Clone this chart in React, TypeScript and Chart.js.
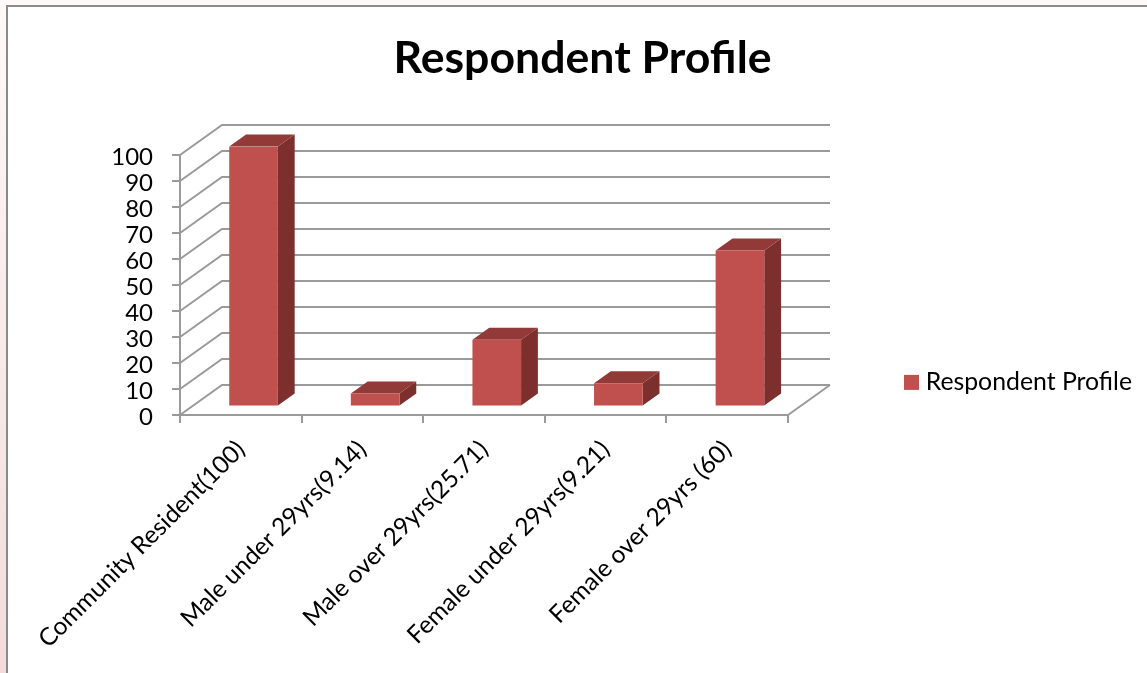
import React, { useEffect, useRef } from "react";
import { Chart, registerables } from "chart.js";

Chart.register(...registerables);

const categories = [
  "Community Resident(100)",
  "Male under 29yrs(9.14)",
  "Male over 29yrs(25.71)",
  "Female under 29yrs(9.21)",
  "Female over 29yrs (60)",
];
const seriesName = "Respondent Profile";
const seriesValues = [100, 5, 25.7, 9, 60];
const titleText = "Respondent Profile";

const FONT = "Lato, 'Open Sans', sans-serif";
const GRID = "#9a9a9a";
const FRONT = "#C0504D";
const SIDE = "#7C2F2D";
const TOP = "#923A38";
const DEPTH_X = 42;
const DEPTH_Y = -30;
const BAR_NEAR = 0.28;
const BAR_DEPTH = 0.4;

const wall3d = {
  id: "wall3d",
  afterLayout(chart: any) {
    const leg = chart.legend;
    if (leg) {
      leg.left = 894;
      leg.right = 1132;
      leg.top = 360;
      leg.bottom = 400;
    }
    const t = chart.titleBlock;
    if (t) {
      t.left = 18;
      t.right = 1147;
    }
  },
  beforeDatasetsDraw(chart: any) {
    const { ctx, chartArea: a, scales } = chart;
    const y = scales.y;
    ctx.save();
    ctx.strokeStyle = GRID;
    ctx.lineWidth = 2;
    y.ticks.forEach((tick: any) => {
      const py = y.getPixelForValue(tick.value);
      ctx.beginPath();
      ctx.moveTo(a.left, py);
      ctx.lineTo(a.left + DEPTH_X, py + DEPTH_Y);
      ctx.lineTo(a.right + DEPTH_X, py + DEPTH_Y);
      ctx.stroke();
    });
    const y0 = y.getPixelForValue(0);
    ctx.beginPath();
    ctx.moveTo(a.right, y0);
    ctx.lineTo(a.right + DEPTH_X, y0 + DEPTH_Y);
    ctx.stroke();
    ctx.restore();

    const meta = chart.getDatasetMeta(0);
    const dx = DEPTH_X * BAR_DEPTH;
    const dy = DEPTH_Y * BAR_DEPTH;
    const ox = DEPTH_X * BAR_NEAR + 1;
    const oy = DEPTH_Y * BAR_NEAR;
    ctx.save();
    ctx.translate(ox, oy);
    meta.data.forEach((bar: any) => {
      const l = bar.x - bar.width / 2;
      const r = bar.x + bar.width / 2;
      ctx.fillStyle = SIDE;
      ctx.beginPath();
      ctx.moveTo(r, bar.y);
      ctx.lineTo(r + dx, bar.y + dy);
      ctx.lineTo(r + dx, bar.base + dy);
      ctx.lineTo(r, bar.base);
      ctx.closePath();
      ctx.fill();
      ctx.fillStyle = TOP;
      ctx.beginPath();
      ctx.moveTo(l, bar.y);
      ctx.lineTo(l + dx, bar.y + dy);
      ctx.lineTo(r + dx, bar.y + dy);
      ctx.lineTo(r, bar.y);
      ctx.closePath();
      ctx.fill();
    });
    // the front faces drawn next by Chart.js share this shift
  },
  afterDatasetsDraw(chart: any) {
    chart.ctx.restore();
  },
};

export default function App() {
  const ref = useRef<HTMLCanvasElement | null>(null);
  useEffect(() => {
    if (!ref.current) return;
    const chart = new Chart(ref.current, {
      type: "bar",
      data: {
        labels: categories,
        datasets: [
          {
            label: seriesName,
            data: seriesValues,
            backgroundColor: FRONT,
            barPercentage: 0.4,
            categoryPercentage: 1,
          },
        ],
      },
      plugins: [wall3d],
      options: {
        responsive: false,
        animation: false,
        layout: { padding: { left: 0, top: 0, bottom: 0, right: 359 } },
        plugins: {
          tooltip: { enabled: false },
          title: {
            display: true,
            text: titleText,
            color: "#000",
            font: { family: FONT, size: 44.6, weight: "bold" },
            padding: { top: 32, bottom: 69.5 },
          },
          legend: {
            display: true,
            position: "chartArea",
            align: "start",
            labels: {
              boxWidth: 15,
              boxHeight: 15,
              color: "#000",
              textAlign: "right",
              font: { family: FONT, size: 24.8 },
            },
          },
        },
        scales: {
          x: {
            afterFit: (s: any) => {
              s.height = 258;
            },
            grid: {
              drawOnChartArea: false,
              drawTicks: true,
              tickLength: 8,
              tickColor: GRID,
              lineWidth: 2,
            },
            border: { color: GRID, width: 2 },
            ticks: {
              autoSkip: false,
              minRotation: 45,
              maxRotation: 45,
              color: "#000",
              font: { family: FONT, size: 24.5 },
              padding: 12,
            },
          },
          y: {
            min: 0,
            max: 100,
            afterFit: (s: any) => {
              s.width = 180;
            },
            grid: {
              drawOnChartArea: false,
              drawTicks: true,
              tickLength: 8,
              tickColor: GRID,
              lineWidth: 2,
            },
            border: { color: GRID, width: 2 },
            ticks: {
              stepSize: 10,
              autoSkip: false,
              color: "#000",
              font: { family: FONT, size: 24 },
              padding: 19,
              labelOffset: 2,
            },
          },
        },
      },
    } as any);
    return () => chart.destroy();
  }, []);

  return (
    <div
      style={{
        position: "fixed",
        left: 0,
        top: 0,
        width: 1147,
        height: 673,
        overflow: "hidden",
        background: "linear-gradient(to bottom, #fdf9f8, #f2dcdb)",
      }}
    >
      <div
        style={{
          position: "absolute",
          left: 6,
          top: 5,
          right: 0,
          bottom: 0,
          background: "#fff",
          borderLeft: "2px solid #8a8a8a",
          borderTop: "2px solid #8a8a8a",
        }}
      />
      <canvas
        ref={ref}
        width={1147}
        height={673}
        style={{ position: "absolute", left: 0, top: 0, width: 1147, height: 673 }}
      />
    </div>
  );
}
